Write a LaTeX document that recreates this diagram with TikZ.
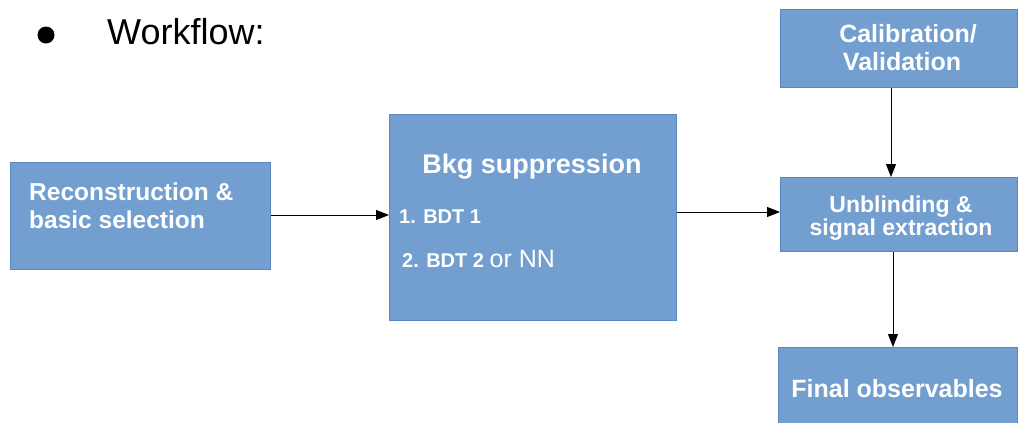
\documentclass[tikz,border=0pt]{standalone}
\usepackage{fontspec}
\setmainfont{Liberation Sans}
\usetikzlibrary{arrows.meta}
\definecolor{boxfill}{RGB}{114,159,207}
\definecolor{boxline}{RGB}{92,135,190}
\begin{document}
\begin{tikzpicture}[x=1pt,y=-1pt,
  box/.style={draw=boxline, line width=0.9pt, fill=boxfill, inner sep=0pt, anchor=north west},
  lbl/.style={text=white, inner sep=0pt},
  arr/.style={-{Triangle[length=13pt,width=10pt]}, line width=1pt, draw=black}]
\clip (0,0) rectangle (1021,423);
\fill[white] (0,0) rectangle (1021,423);
% heading
\fill[black] (46,35) circle (8.5);
\node[inner sep=0pt, anchor=base west, font=\fontsize{36}{40}\selectfont] (wf) at (107,45) {Workflow:};
% boxes
\node[box, minimum width=260pt, minimum height=107pt] (rec) at (10,162) {};
\node[box, minimum width=287pt, minimum height=206pt] (bkg) at (389,114) {};
\node[box, minimum width=237pt, minimum height=78pt] (cal) at (780,9) {};
\node[box, minimum width=237pt, minimum height=74pt] (unb) at (780,177) {};
\node[box, minimum width=239pt, minimum height=90pt] (fin) at (778,347) {};
% texts
\node[lbl, anchor=base west, font=\fontsize{24.5}{28}\bfseries] (rec1) at (29,200) {Reconstruction \&};
\node[lbl, anchor=base west, font=\fontsize{24.5}{28}\bfseries] (rec2) at (29,228) {basic selection};
\node[lbl, anchor=base, font=\fontsize{27}{30}\bfseries] (bkg1) at (532,173) {Bkg suppression};
\node[lbl, anchor=base west, font=\fontsize{20}{24}\bfseries] (bkg2) at (399,223) {1. BDT 1};
\node[lbl, anchor=base west, font=\fontsize{20}{24}\bfseries] (bkg3) at (402,267) {2. BDT 2 {\fontsize{25}{28}\mdseries or NN}};
\node[lbl, anchor=base, font=\fontsize{25}{28}\bfseries] (cal1) at (908,42) {Calibration/};
\node[lbl, anchor=base, font=\fontsize{25}{28}\bfseries] (cal2) at (902,70) {Validation};
\node[lbl, anchor=base, font=\fontsize{23}{26}\bfseries] (unb1) at (901,212) {Unblinding \&};
\node[lbl, anchor=base, font=\fontsize{23}{26}\bfseries] (unb2) at (901,235) {signal extraction};
\node[lbl, anchor=base, font=\fontsize{25}{28}\bfseries] (fin1) at (897,397) {Final observables};
% connectors
\draw[arr] (rec.east |- 0,215) -- (bkg.west |- 0,215);
\draw[arr] (bkg.east |- 0,212) -- (unb.west |- 0,212);
\draw[arr] (cal.south -| 891,0) -- (unb.north -| 891,0);
\draw[arr] (unb.south -| 893,0) -- (fin.north -| 893,0);
\end{tikzpicture}
\end{document}
